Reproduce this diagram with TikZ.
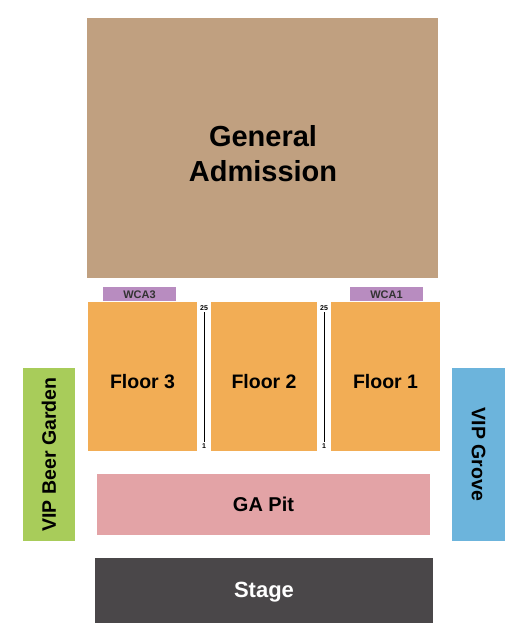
\documentclass[tikz,border=0pt]{standalone}
\usepackage{fontspec}
\setmainfont{Liberation Sans}
\definecolor{gacol}{HTML}{C0A080}
\definecolor{wcacol}{HTML}{B88CC0}
\definecolor{floorcol}{HTML}{F2AD55}
\definecolor{gardencol}{HTML}{A8CC5A}
\definecolor{grovecol}{HTML}{6CB4DC}
\definecolor{pitcol}{HTML}{E3A3A6}
\definecolor{stagecol}{HTML}{4A4749}
\tikzset{
  sect/.style={inner sep=0pt, font=\bfseries, align=center},
  rownum/.style={inner sep=0pt, font=\bfseries\fontsize{7}{8}\selectfont},
}
\begin{document}
\begin{tikzpicture}[x=1pt, y=-1pt]
      \useasboundingbox (0, 0) rectangle (525, 631);
      \fill [gacol] (87, 18) rectangle (438, 278);
      \node [sect, font=\bfseries\fontsize{29}{35}\selectfont] (ga) at (263, 154) {General\\Admission};
      \fill [wcacol] (103, 287) rectangle (176, 301);
      \node [sect, font=\bfseries\fontsize{11}{12}\selectfont, text=black!80] (wca3) at (139.5, 294.5) {WCA3};
      \fill [wcacol] (350, 287) rectangle (423, 301);
      \node [sect, font=\bfseries\fontsize{11}{12}\selectfont, text=black!80] (wca1) at (386.5, 294.5) {WCA1};
      \fill [floorcol] (88, 302) rectangle (197, 451);
      \node [sect, font=\bfseries\fontsize{19.5}{22}\selectfont] (floor3) at (142.5, 382) {Floor 3};
      \fill [floorcol] (211, 302) rectangle (317, 451);
      \node [sect, font=\bfseries\fontsize{19.5}{22}\selectfont] (floor2) at (264, 382) {Floor 2};
      \fill [floorcol] (331, 302) rectangle (440, 451);
      \node [sect, font=\bfseries\fontsize{19.5}{22}\selectfont] (floor1) at (385.5, 382) {Floor 1};
      \node [rownum] (top3) at (204, 308) {25};
      \node [rownum] (bot3) at (204, 446) {1};
      \draw [thick] ([yshift=-1.5pt]top3.south) -- ([yshift=1.5pt]bot3.north);
      \node [rownum] (top2) at (324, 308) {25};
      \node [rownum] (bot2) at (324, 446) {1};
      \draw [thick] ([yshift=-1.5pt]top2.south) -- ([yshift=1.5pt]bot2.north);
      \fill [gardencol] (23, 368) rectangle (75, 541);
      \node [sect, rotate=90, font=\bfseries\fontsize{19.5}{22}\selectfont] (garden) at (49, 454.5) {VIP Beer Garden};
      \fill [grovecol] (452, 368) rectangle (505, 541);
      \node [sect, rotate=-90, font=\bfseries\fontsize{19.5}{22}\selectfont] (grove) at (478.5, 454.5) {VIP Grove};
      \fill [pitcol] (97, 474) rectangle (430, 535);
      \node [sect, font=\bfseries\fontsize{20}{22}\selectfont] (pit) at (263.5, 504.5) {GA Pit};
      \fill [stagecol] (95, 558) rectangle (433, 623);
      \node [sect, text=white, font=\bfseries\fontsize{22}{24}\selectfont] (stage) at (264, 592) {Stage};
    \end{tikzpicture}
\end{document}
